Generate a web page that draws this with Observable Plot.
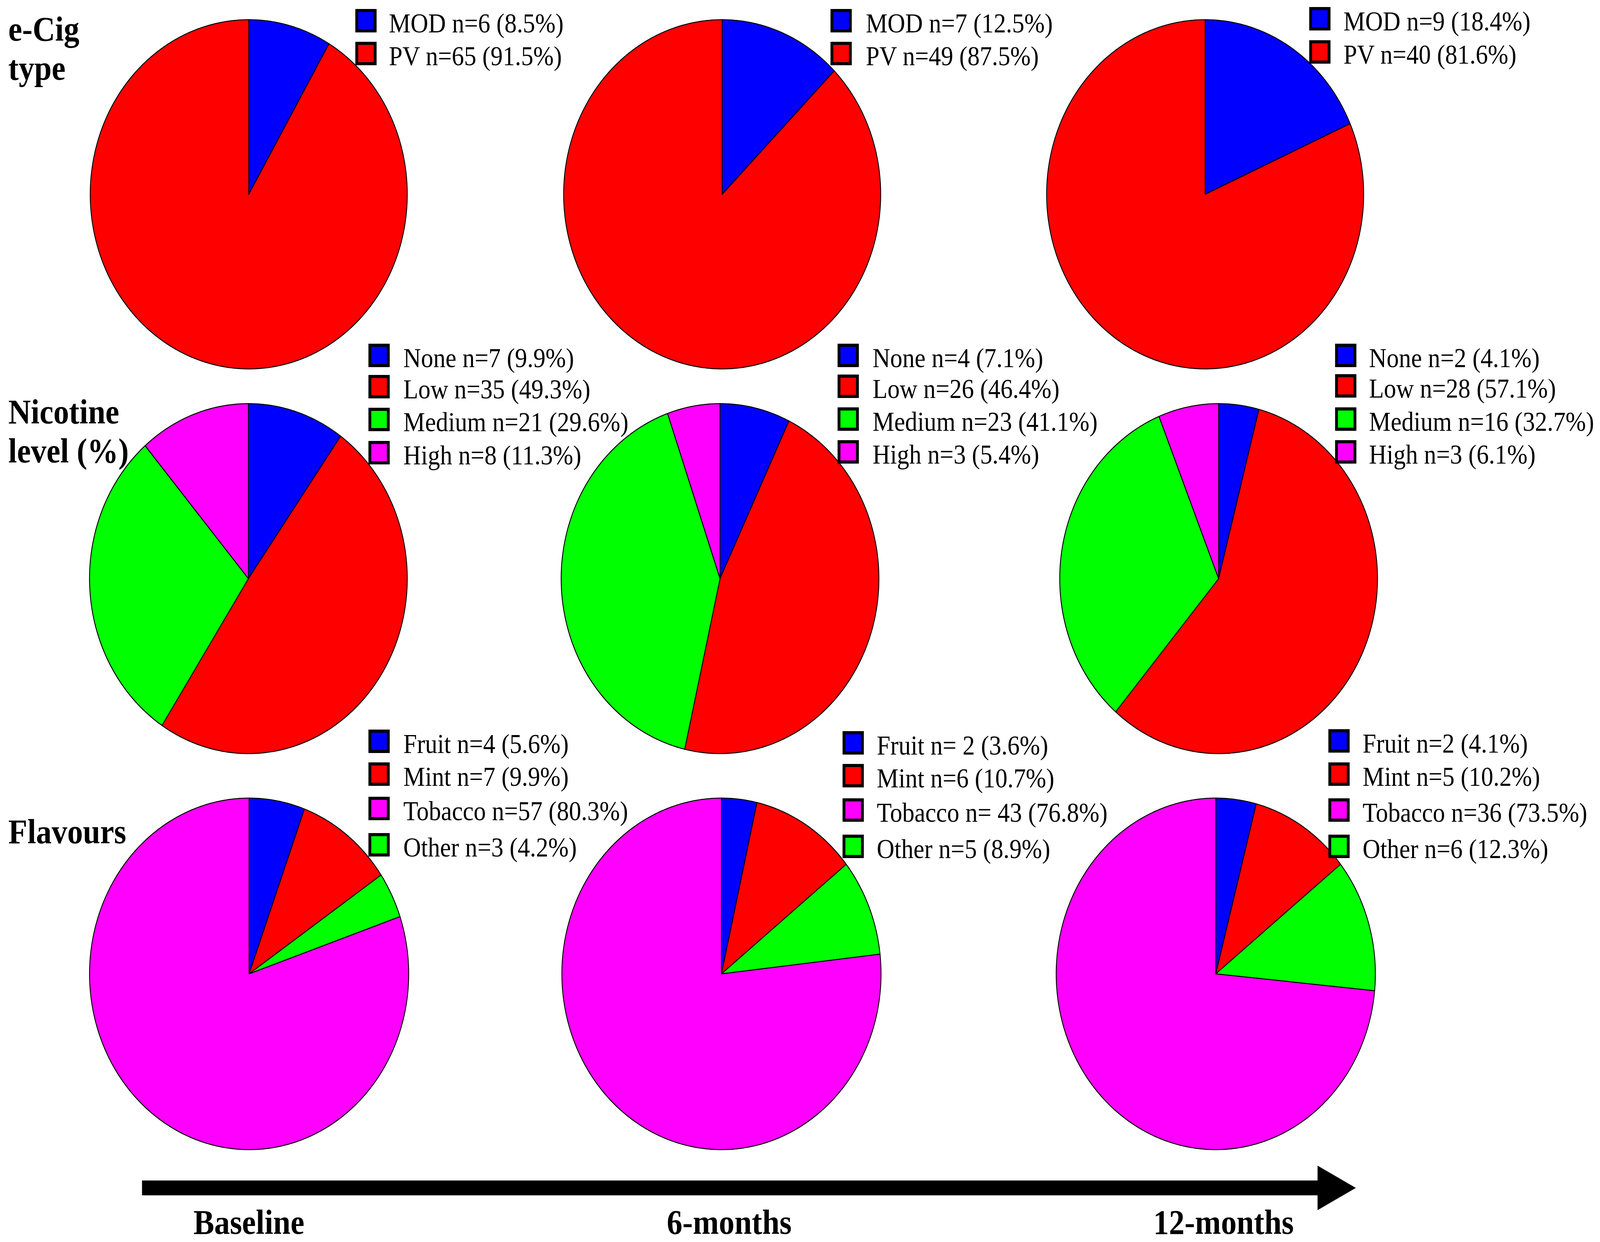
<!DOCTYPE html>
<html>
<head>
<meta charset="utf-8">
<script src="https://cdn.jsdelivr.net/npm/d3@7"></script>
<script src="https://cdn.jsdelivr.net/npm/@observablehq/plot@0.6"></script>
<style>
  html, body { margin: 0; padding: 0; background: #ffffff; width: 100vw; height: 100vh; overflow: hidden; }
  #chart { width: 100vw; height: 100vh; overflow: hidden; }
  #chart svg { display: block; }
</style>
</head>
<body>
<div id="chart"></div>
<script>
// ---------------- DATA ----------------
const timepoints = ["Baseline", "6-months", "12-months"];
const rowTitles = ["e-Cig\ntype", "Nicotine\nlevel (%)", "Flavours"];

const ecigCategories = ["MOD", "PV"];
const ecigCounts = [[6, 65], [7, 49], [9, 40]];
const ecigPercents = [[8.5, 91.5], [12.5, 87.5], [18.4, 81.6]];

const nicotineCategories = ["None", "Low", "Medium", "High"];
const nicotineCounts = [[7, 35, 21, 8], [4, 26, 23, 3], [2, 28, 16, 3]];
const nicotinePercents = [[9.9, 49.3, 29.6, 11.3], [7.1, 46.4, 41.1, 5.4], [4.1, 57.1, 32.7, 6.1]];

const flavourCategories = ["Fruit", "Mint", "Tobacco", "Other"];
const flavourCounts = [[4, 7, 57, 3], [2, 6, 43, 5], [2, 5, 36, 6]];
const flavourPercents = [[5.6, 9.9, 80.3, 4.2], [3.6, 10.7, 76.8, 8.9], [4.1, 10.2, 73.5, 12.3]];
// clockwise drawing order of the flavour slices
const flavourPieOrder = ["Fruit", "Mint", "Other", "Tobacco"];
// "n=" separator as printed in each legend (some have a space)
const flavourSeparators = [["n=", "n=", "n=", "n="], ["n= ", "n=", "n= ", "n="], ["n=", "n=", "n=", "n="]];

// ---------------- STYLE / LAYOUT ----------------
const categoryColors = {
  MOD: "#0000ff", PV: "#ff0000",
  None: "#0000ff", Low: "#ff0000", Medium: "#00ff00", High: "#ff00ff",
  Fruit: "#0000ff", Mint: "#ff0000", Tobacco: "#ff00ff", Other: "#00ff00"
};
const W = 4512, H = 3180;
const pieLayout = [
  {cy: 497,  r: 447, cx: [701, 2036, 3398]},
  {cy: 1481, r: 448, cx: [700, 2030, 3436]},
  {cy: 2493, r: 450, cx: [702, 2034, 3428]}
];
const legendLayout = [
  {sqX: [1002, 2342, 3692], textX: [1096, 2441, 3788],
   top: [[23, 107], [23, 107], [18, 103]]},
  {sqX: [1039, 2362, 3765], textX: [1137, 2460, 3860],
   top: [[880, 960, 1044, 1129], [880, 959, 1043, 1127], [880, 958, 1043, 1127]]},
  {sqX: [1039, 2376, 3746], textX: [1137, 2472, 3842],
   top: [[1868, 1952, 2040, 2133], [1872, 1956, 2044, 2137], [1867, 1952, 2044, 2137]]}
];
const squareSize = 60, squareStroke = 8;
const titleX = 23, titleBaselines = [203, 1183, 2158];
const timeLabelX = [545, 1880, 3252], timeLabelBaseline = 3158;
const arrowLayout = {x0: 400, x1: 3716, y: 3041, thickness: 38, headLen: 107, headHalf: 57};

// ---------------- BUILD TABLES ----------------
const rows = [
  {cats: ecigCategories, counts: ecigCounts, pcts: ecigPercents, order: ecigCategories,
   sep: ecigCounts.map(r => r.map(() => "n="))},
  {cats: nicotineCategories, counts: nicotineCounts, pcts: nicotinePercents, order: nicotineCategories,
   sep: nicotineCounts.map(r => r.map(() => "n="))},
  {cats: flavourCategories, counts: flavourCounts, pcts: flavourPercents, order: flavourPieOrder,
   sep: flavourSeparators}
];

const slicePoints = [];
const legendItems = [];
rows.forEach((row, i) => {
  const L = pieLayout[i];
  timepoints.forEach((tp, j) => {
    const items = row.order.map(c => ({cat: c, n: row.counts[j][row.cats.indexOf(c)]}));
    const arcs = d3.pie().sort(null).value(d => d.n)(items);
    const cx = L.cx[j], cy = L.cy, r = L.r;
    arcs.forEach((a, k) => {
      const id = `${i}-${j}-${k}`;
      const color = categoryColors[a.data.cat];
      const steps = Math.max(2, Math.ceil((a.endAngle - a.startAngle) / (Math.PI / 360)));
      slicePoints.push({id, color, x: cx, y: cy});
      for (let s = 0; s <= steps; s++) {
        const t = a.startAngle + (a.endAngle - a.startAngle) * s / steps;
        slicePoints.push({id, color, x: cx + r * Math.sin(t), y: cy - r * Math.cos(t)});
      }
      slicePoints.push({id, color, x: cx, y: cy});
    });
    const LL = legendLayout[i];
    row.cats.forEach((c, k) => {
      legendItems.push({
        color: categoryColors[c],
        sx: LL.sqX[j], top: LL.top[j][k], tx: LL.textX[j],
        label: `${c} ${row.sep[j][k]}${row.counts[j][k]} (${row.pcts[j][k].toFixed(1)}%)`
      });
    });
  });
});

const titleItems = rowTitles.map((t, i) => ({text: t, y: titleBaselines[i]}));
const timeItems = timepoints.map((t, j) => ({text: t, x: timeLabelX[j]}));
const A = arrowLayout;
const arrowHead = [
  {x: A.x1 - 1, y: A.y - A.headHalf},
  {x: A.x1 + A.headLen, y: A.y},
  {x: A.x1 - 1, y: A.y + A.headHalf}
];

const serif = "'Liberation Serif', 'Times New Roman', serif";

const chart = Plot.plot({
  width: W, height: H,
  margin: 0,
  x: {domain: [0, W], range: [0, W], axis: null},
  y: {domain: [0, H], range: [0, H], axis: null},
  color: {type: "identity"},
  style: {background: "#ffffff", fontFamily: serif},
  marks: [
    // pies
    Plot.line(slicePoints, {
      x: "x", y: "y", z: "id", fill: "color",
      stroke: "#000000", strokeWidth: 2.5, strokeLinejoin: "round", curve: "linear"
    }),
    // legend swatches
    Plot.rect(legendItems, {
      x1: d => d.sx + squareStroke / 2, x2: d => d.sx + squareSize - squareStroke / 2,
      y1: d => d.top + squareStroke / 2, y2: d => d.top + squareSize - squareStroke / 2,
      fill: "color", stroke: "#000000", strokeWidth: squareStroke
    }),
    // legend labels
    Plot.text(legendItems, {
      x: "tx", y: d => d.top + squareSize - 1, text: "label",
      textAnchor: "start", lineAnchor: "bottom",
      fontSize: 69, fontFamily: serif, fill: "#000000"
    }),
    // row titles
    Plot.text(titleItems, {
      x: () => titleX, y: "y", text: "text",
      textAnchor: "start", lineAnchor: "bottom", lineHeight: 1.136,
      fontSize: 88, fontWeight: "bold", fontFamily: serif, fill: "#000000"
    }),
    // time arrow
    Plot.link([A], {
      x1: d => d.x0, x2: d => d.x1, y1: d => d.y, y2: d => d.y,
      stroke: "#000000", strokeWidth: A.thickness, strokeLinecap: "butt"
    }),
    Plot.line(arrowHead, {x: "x", y: "y", fill: "#000000", stroke: "none"}),
    // time labels
    Plot.text(timeItems, {
      x: "x", y: () => timeLabelBaseline, text: "text",
      textAnchor: "start", lineAnchor: "bottom",
      fontSize: 88, fontWeight: "bold", fontFamily: serif, fill: "#000000"
    })
  ]
});

// fit the whole 4512x3180 drawing to the browser viewport
chart.setAttribute("viewBox", `0 0 ${W} ${H}`);
chart.setAttribute("preserveAspectRatio", "none");
chart.style.width = "100vw";
chart.style.height = "100vh";
chart.style.maxWidth = "none";

document.getElementById("chart").appendChild(chart);
</script>
</body>
</html>
